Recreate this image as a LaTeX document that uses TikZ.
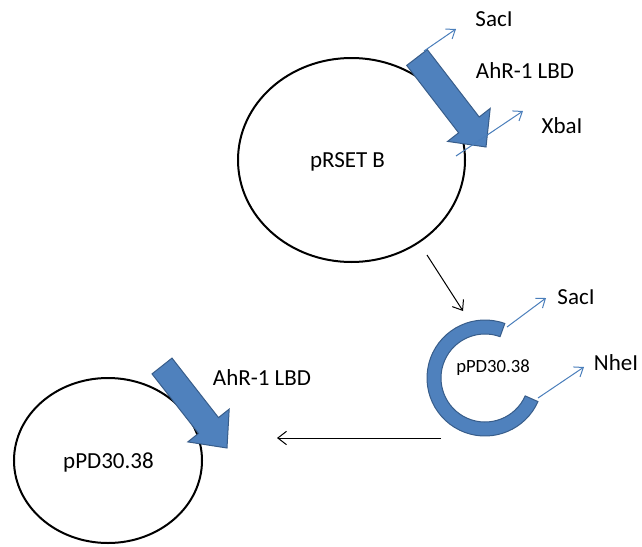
\documentclass[tikz,border=0pt]{standalone}
\usepackage{fontspec}
\setmainfont{Carlito}
\usetikzlibrary{arrows.meta,shapes.geometric,calc}
\definecolor{blockfill}{HTML}{4F81BD}
\definecolor{blockline}{HTML}{385D8A}
\definecolor{thinblue}{HTML}{4A7EBB}
\tikzset{
  plasmid/.style={draw=black,line width=1.5pt,ellipse,inner sep=0pt},
  blockarrow/.style={fill=blockfill,draw=blockline,line width=0.75pt,line join=miter},
  sitearrow/.style={draw=thinblue,line width=0.75pt,-{Straight Barb[length=6pt,width=9pt,line width=0.75pt]}},
  flowarrow/.style={draw=black,line width=0.75pt,-{Straight Barb[length=6.5pt,width=10pt,line width=0.75pt]}},
  lbl/.style={font=\fontsize{17.25}{20}\selectfont,inner sep=0pt},
  smalllbl/.style={font=\fontsize{14}{16}\selectfont,inner sep=0pt}
}
\begin{document}
\begin{tikzpicture}[x=0.75pt,y=-0.75pt]
\useasboundingbox (0,0) rectangle (642,546);
% top plasmid
\node[plasmid,minimum width=170.25pt,minimum height=153pt] (top) at (351.5,160) {};
\node[lbl] (toptext) at (347.5,162) {pRSET B};
% top block arrow
\draw[blockarrow] (406.7,65.4) -- (427.3,49.6) -- (479.2,117) -- (490.2,108.4) -- (486,147) -- (447.6,141.4) -- (458.6,132.8) -- cycle;
% restriction sites top
\coordinate (s1a) at (424,51);
\coordinate (s1b) at (456,29);
\draw[sitearrow] (s1a) -- (s1b);
\node[lbl] (sac1) at (494,19) {SacI};
\node[lbl] (ahr1) at (525,71) {AhR-1 LBD};
\coordinate (x1a) at (456,156);
\coordinate (x1b) at (523,111);
\draw[sitearrow] (x1a) -- (x1b);
\node[lbl] (xba) at (562,126) {XbaI};
% flow arrow down
\coordinate (f1a) at (427,255);
\coordinate (f1b) at (463,311);
\draw[flowarrow] (f1a) -- (f1b);
% C-shaped open plasmid
\coordinate (C) at (485,378);
\draw[blockarrow] ($(C)+(70:43.5pt)$) arc[start angle=70,end angle=336,radius=43.5pt]
  -- ($(C)+(336:33pt)$) arc[start angle=336,end angle=70,radius=33pt] -- cycle;
\node[smalllbl] (opentext) at (493,368) {pPD30.38};
\coordinate (s2a) at (507,327);
\coordinate (s2b) at (546,298);
\draw[sitearrow] (s2a) -- (s2b);
\node[lbl] (sac2) at (576,297) {SacI};
\coordinate (n2a) at (538,398);
\coordinate (n2b) at (584,367);
\draw[sitearrow] (n2a) -- (n2b);
\node[lbl] (nhe) at (616,363) {NheI};
% flow arrow left
\coordinate (f2a) at (441,438);
\coordinate (f2b) at (277,438);
\draw[flowarrow] (f2a) -- (f2b);
% bottom plasmid
\node[plasmid,minimum width=141pt,minimum height=123.75pt] (bot) at (108,460.5) {};
\node[lbl] (bottext) at (108.5,462) {pPD30.38};
\draw[blockarrow] (152,373.9) -- (172,358.1) -- (218.5,417.6) -- (229.2,409.1) -- (227,448) -- (187.8,441.9) -- (198.5,433.4) -- cycle;
\node[lbl] (ahr2) at (262,378) {AhR-1 LBD};
\end{tikzpicture}
\end{document}
